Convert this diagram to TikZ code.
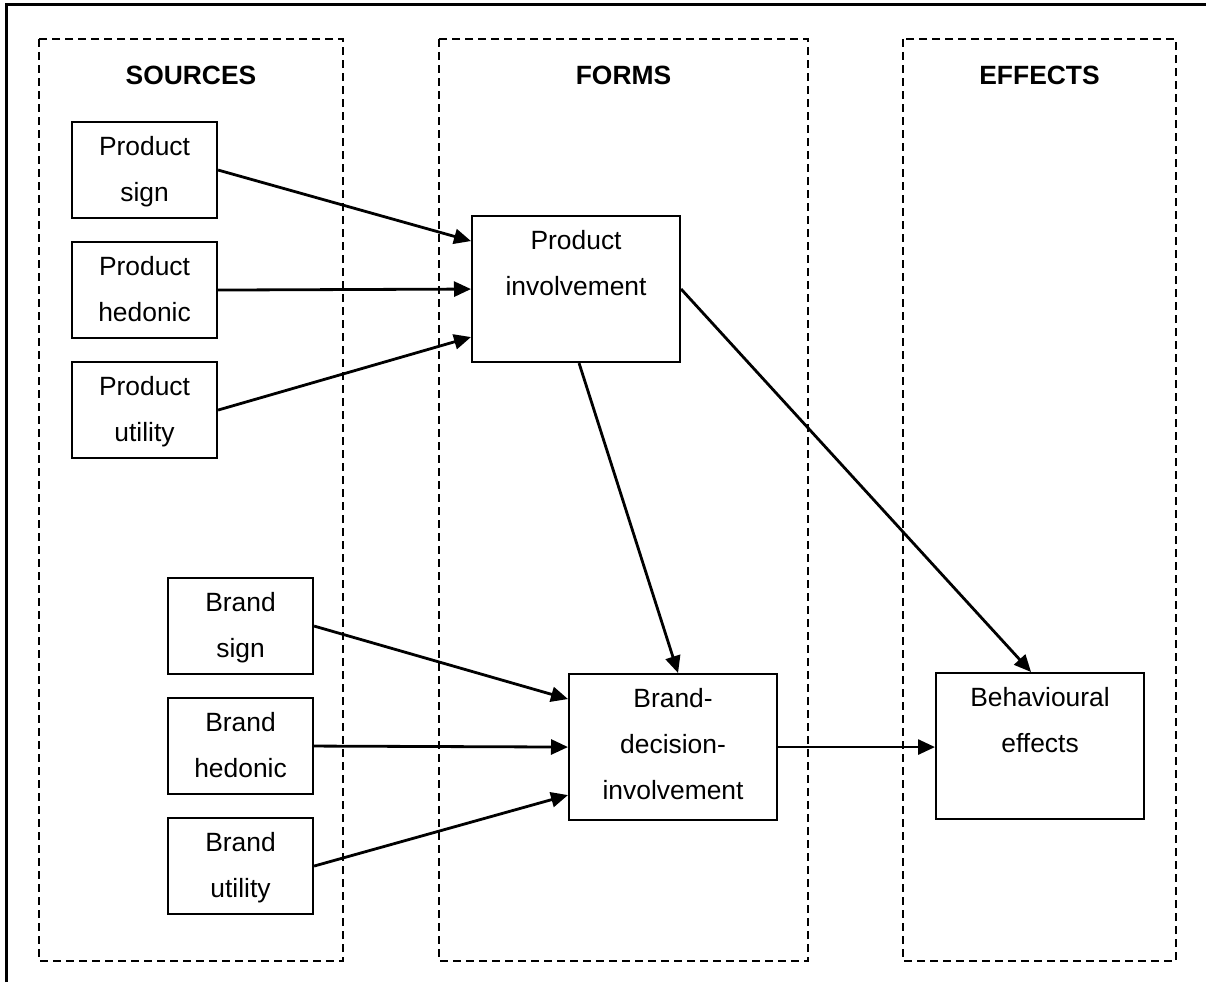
\documentclass[tikz,border=0pt]{standalone}
\usepackage{fontspec}
\setmainfont{Liberation Sans}
\usetikzlibrary{arrows.meta}
% strut that fixes the height of the first text row in every box
\newcommand\firstrow{\rule{0pt}{30pt}}
\begin{document}
\begin{tikzpicture}[x=1pt,y=-1pt,
  frame/.style={line width=2.8pt},
  zone/.style={draw, dash pattern=on 8pt off 5pt, line width=2.1pt},
  heading/.style={anchor=base, inner sep=0, font=\fontsize{26.4}{30}\selectfont\bfseries},
  blk/.style={draw, line width=2.1pt, anchor=north west, inner sep=0},
  smallbox/.style={blk, minimum width=145pt, minimum height=96pt},
  bigbox/.style={blk, minimum width=208pt, minimum height=146pt},
  txt/.style={anchor=north, inner sep=0, align=center, yshift=-4pt,
              font=\fontsize{26.4}{46}\selectfont},
  arr/.style={line width=2.8pt, -{Triangle[length=17pt,width=15pt]}}
]
\useasboundingbox (0,0) rectangle (1206,982);

% outer frame (top and left edges)
\draw[frame] (6.7,982) |- (1206,4.7);

% the three columns
\draw[zone] (39,39) rectangle (343,961);
\draw[zone] (439,39) rectangle (808,961);
\draw[zone] (903,39) rectangle (1176,961);

\node[heading] (hsrc) at (191,84) {SOURCES};
\node[heading] (hform) at (623.5,84) {FORMS};
\node[heading] (heff) at (1039.5,84) {EFFECTS};

% sources
\node[smallbox, label={[txt]north:{\firstrow Product\\sign}}]    (psign) at (71,121) {};
\node[smallbox, label={[txt]north:{\firstrow Product\\hedonic}}] (phed)  at (71,241) {};
\node[smallbox, label={[txt]north:{\firstrow Product\\utility}}] (putil) at (71,361) {};

\node[smallbox, label={[txt]north:{\firstrow Brand\\sign}}]    (bsign) at (167,577) {};
\node[smallbox, label={[txt]north:{\firstrow Brand\\hedonic}}] (bhed)  at (167,697) {};
\node[smallbox, label={[txt]north:{\firstrow Brand\\utility}}] (butil) at (167,817) {};

% forms
\node[bigbox, label={[txt]north:{\firstrow Product\\involvement}}] (pinv) at (471,215) {};
\node[bigbox, label={[txt]north:{\firstrow Brand-\\decision-\\involvement}}] (bdi) at (568,673) {};

% effects
\node[bigbox, label={[txt]north:{\firstrow Behavioural\\effects}}] (behav) at (935,672) {};

% connectors
\draw[arr] (psign.east) -- ([yshift=48pt]pinv.west);
\draw[arr] (phed.east)  -- (pinv.west);
\draw[arr] (putil.east) -- ([yshift=-48pt]pinv.west);

\draw[arr] (bsign.east) -- ([yshift=48pt]bdi.west);
\draw[arr] (bhed.east)  -- (bdi.west);
\draw[arr] (butil.east) -- ([yshift=-48pt]bdi.west);

\draw[arr] ([xshift=3pt]pinv.south) -- ([xshift=5pt]bdi.north);
\draw[arr] (pinv.east) -- ([xshift=-9pt]behav.north);
\draw[arr] (bdi.east) -- (bdi.east -| behav.west);
\end{tikzpicture}
\end{document}
